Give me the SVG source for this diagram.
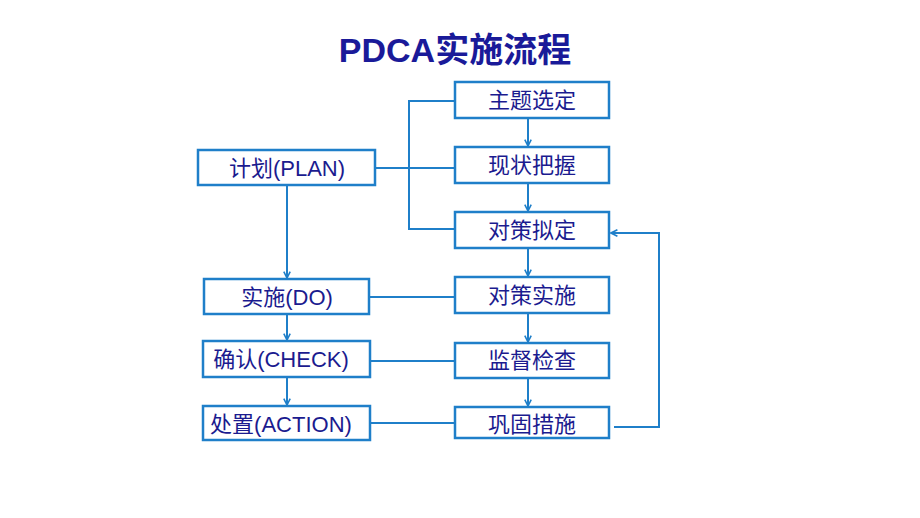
<svg xmlns="http://www.w3.org/2000/svg" width="920" height="518" viewBox="0 0 920 518">
<style>
.box{fill:#fff;stroke:#1f7fc9;stroke-width:2.5}
.t{font-family:"Liberation Sans","Noto Sans CJK SC",sans-serif;font-size:22px;fill:#1b1b8f;text-anchor:middle}
.title{font-family:"Liberation Sans","Noto Sans CJK SC",sans-serif;font-size:34px;font-weight:bold;fill:#1a1a99;text-anchor:middle}
.c{fill:none;stroke:#1f7fc9;stroke-width:2}
</style>
<defs>
<marker id="ar" viewBox="0 0 10 10" refX="9" refY="5" markerWidth="8" markerHeight="8" orient="auto" markerUnits="userSpaceOnUse">
<path d="M1,1 L9,5 L1,9" fill="none" stroke="#1f7fc9" stroke-width="2"/>
</marker>
</defs>
<rect width="920" height="518" fill="#fff"/>
<text class="title" x="455" y="62">PDCA实施流程</text>
<g id="connectors">
<path class="c" d="M455,101 H409 V229 H455"/>
<path class="c" d="M375,168 H455"/>
<path class="c" d="M528,118 V146" marker-end="url(#ar)"/>
<path class="c" d="M528,183 V211" marker-end="url(#ar)"/>
<path class="c" d="M528,248 V276" marker-end="url(#ar)"/>
<path class="c" d="M528,313 V342" marker-end="url(#ar)"/>
<path class="c" d="M528,378 V406" marker-end="url(#ar)"/>
<path class="c" d="M287,185 V278" marker-end="url(#ar)"/>
<path class="c" d="M287,314 V340" marker-end="url(#ar)"/>
<path class="c" d="M287,377 V405" marker-end="url(#ar)"/>
<path class="c" d="M369,297 H455"/>
<path class="c" d="M370,361 H455"/>
<path class="c" d="M370,423 H455"/>
<path class="c" d="M614,427 H659 V233 H611" marker-end="url(#ar)"/>
</g>
<g id="n-zhuti"><rect class="box" x="455" y="82" width="154" height="36"/><text class="t" x="532" y="108">主题选定</text></g>
<g id="n-xianzhuang"><rect class="box" x="455" y="147" width="154" height="36"/><text class="t" x="532" y="173">现状把握</text></g>
<g id="n-nidin"><rect class="box" x="455" y="212" width="154" height="36"/><text class="t" x="532" y="238">对策拟定</text></g>
<g id="n-shishi"><rect class="box" x="455" y="277" width="154" height="36"/><text class="t" x="532" y="303">对策实施</text></g>
<g id="n-jiandu"><rect class="box" x="455" y="343" width="154" height="35"/><text class="t" x="532" y="368">监督检查</text></g>
<g id="n-gonggu"><rect class="box" x="455" y="407" width="154" height="31"/><text class="t" x="532" y="432">巩固措施</text></g>
<g id="n-plan"><rect class="box" x="198" y="150" width="177" height="35"/><text class="t" x="287" y="176">计划(PLAN)</text></g>
<g id="n-do"><rect class="box" x="204" y="279" width="165" height="35"/><text class="t" x="287" y="305">实施(DO)</text></g>
<g id="n-check"><rect class="box" x="203" y="341" width="167" height="36"/><text class="t" x="281" y="367">确认(CHECK)</text></g>
<g id="n-action"><rect class="box" x="203" y="406" width="167" height="34"/><text class="t" x="281" y="432">处置(ACTION)</text></g>
</svg>
